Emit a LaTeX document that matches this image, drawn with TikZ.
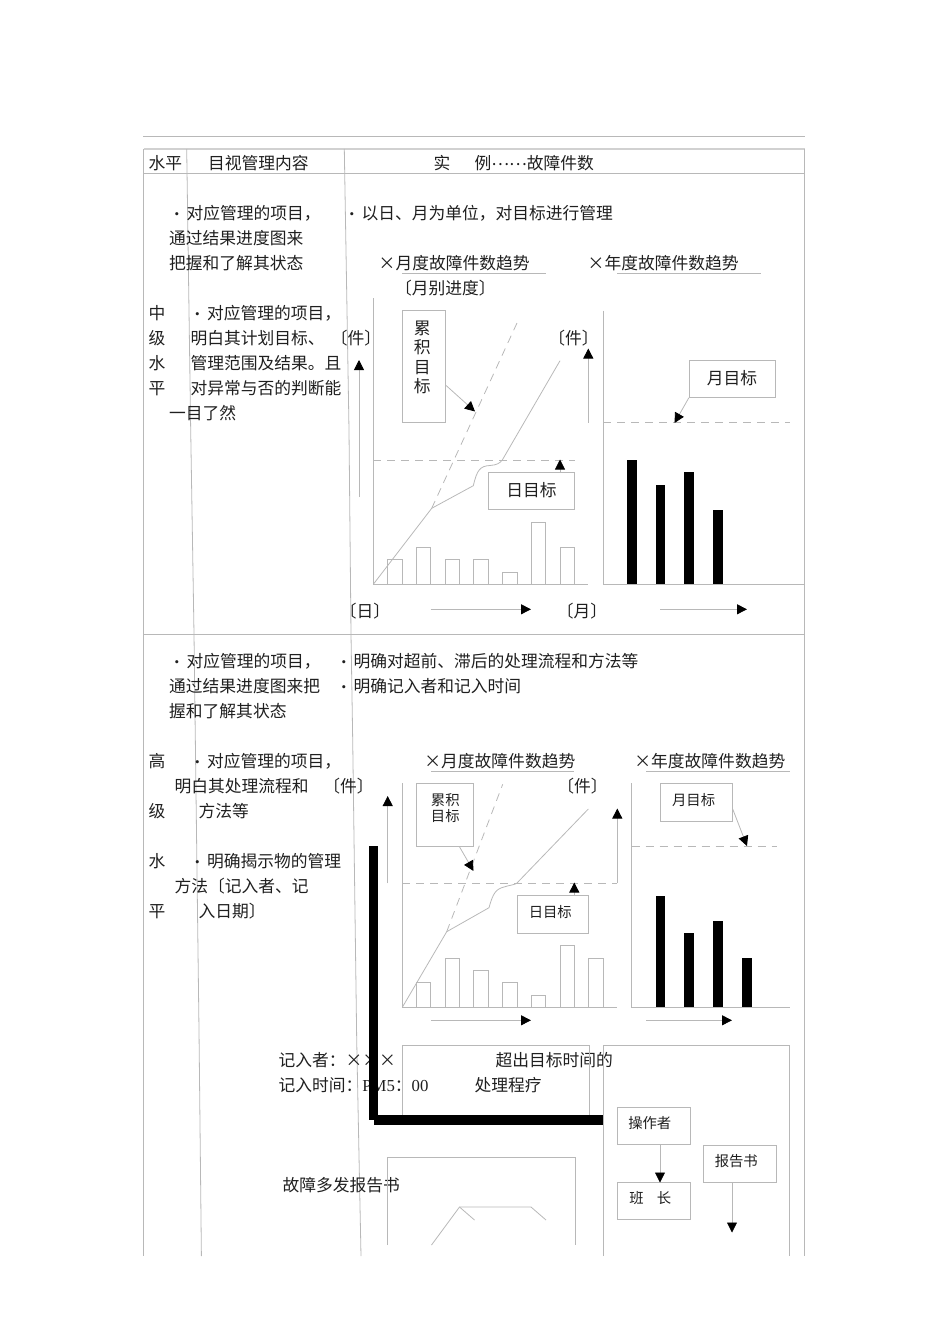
\documentclass[tikz,border=0pt]{standalone}
\usepackage{fontspec}
\setmainfont{Liberation Serif}
\newfontfamily\cjk{Noto Sans CJK SC}
\usetikzlibrary{positioning, shapes.geometric, arrows.meta}
\definecolor{rulegray}{gray}{0.72}
\newcommand{\dotb}{\makebox[19pt]{\raisebox{0.8pt}{\rmfamily\fontsize{13}{13}\selectfont •}}}
\tikzset{
  txt/.style={anchor=west, inner sep=0, xshift=-0.7pt, yshift=-0.7pt, text=black!88, text height=14.5pt, text depth=1.7pt, font=\cjk\fontsize{16.76}{18}\selectfont},
  mid/.style={txt, anchor=center},
  sml/.style={mid, text height=12.5pt, text depth=1.5pt, font=\cjk\fontsize{14.36}{16}\selectfont},
  box/.style={draw=rulegray, line width=0.8pt, inner sep=0},
  rule/.style={draw=rulegray, line width=0.8pt},
  dashline/.style={rule, dash pattern=on 8pt off 6pt},
  arr/.style={rule, -{Triangle[length=10pt,width=10pt,color=black]}}
}
\begin{document}
\begin{tikzpicture}[x=1pt, y=-1pt]
\useasboundingbox (0,0) rectangle (950,1344);
% table
\draw[rule] (143,136.5) -- (804.5,136.5);
\draw[rule, line width=1.3pt, draw=black!18] (143.5,149) -- (804.5,149);
\draw[rule] (143.5,149) -- (143.5,1256); \draw[rule] (804.5,149) -- (804.5,1256);
\draw[rule] (143.5,173.5) -- (804.5,173.5); \draw[rule] (143.5,634) -- (804.5,634);
\draw[rule] (186.7,149) -- (190.7,430) -- (194,634) -- (199,1030) -- (201.4,1256);
\draw[rule] (344.3,149) -- (349,430) -- (351,634) -- (352.7,740) -- (356.7,1040) -- (361,1256);
\node[txt] (hlevel) at (149,162.5) {水平};
\node[txt] (hcontent) at (208.5,162.5) {目视管理内容};
\node[txt] (hshi) at (434,162.5) {实};
\node[txt] (hli) at (475,162.5) {例\raisebox{4.5pt}{……}故障件数};
% first row, text
\node[txt] (ra1) at (187,212.5) {\llap{\dotb}对应管理的项目，};
\node[txt] (ra2) at (169.7,237.5) {通过结果进度图来};
\node[txt] (ra3) at (169.7,262.5) {把握和了解其状态};
\node[txt] (ma1) at (149,312) {中}; \node[txt] (ma2) at (149,337) {级};
\node[txt] (ma3) at (149,362) {水}; \node[txt] (ma4) at (149,387) {平};
\node[txt] (rb1) at (207.5,312) {\llap{\dotb}对应管理的项目，};
\node[txt] (rb2) at (191,337) {明白其计划目标、};
\node[txt] (rb3) at (191,362) {管理范围及结果。且};
\node[txt] (rb4) at (191,387) {对异常与否的判断能};
\node[txt] (rb5) at (169.7,412) {一目了然};
\node[txt] (rc1) at (362,212.5) {\llap{\dotb}以日、月为单位，对目标进行管理};
% first row, monthly chart
\node[txt] (tmonth) at (396,262.5) {\llap{×}月度故障件数趋势};
\node[mid] (tsub) at (446,287) {〔月别进度〕};
\node[mid] (unita) at (356.7,337) {〔件〕};
\node[mid] (unitb) at (574.3,337) {〔件〕};
\node[mid] (dayl) at (365.7,610.5) {〔日〕};
\draw[rule] (402,273.3) -- (545.7,273.3);
\draw[rule] (373.3,298) -- (373.3,584.3) -- (588.3,584.3);
\draw[rule] (387.3,584.3) rectangle (402.3,559.3);
\draw[rule] (416.3,584.3) rectangle (430.7,547.3);
\draw[rule] (445.3,584.3) rectangle (459.7,559.3);
\draw[rule] (473.7,584.3) rectangle (488.7,559.3);
\draw[rule] (502.7,584.3) rectangle (517.3,572.3);
\draw[rule] (531.3,584.3) rectangle (545.7,522.3);
\draw[rule] (560.3,584.3) rectangle (574.7,547.3);
\draw[rule] (373.3,584.3) -- (431.7,508.3) -- (473.3,485.7) .. controls (477,470) and (480,466) .. (490,465.5) .. controls (497,465) and (500,463) .. (502.3,460) -- (560,360.7);
\draw[dashline] (431.7,508.3) -- (517,323);
\draw[dashline] (373.3,460.3) -- (575,460.3);
\node[box, minimum width=43.4pt, minimum height=112.4pt] (goala) at (424,366.5) {};
\node[mid] (goala1) at (423,327) {累}; \node[mid] (goala2) at (423,346.5) {积};
\node[mid] (goala3) at (423,366) {目}; \node[mid] (goala4) at (423,385.5) {标};
\coordinate (goalat) at (475,411.5);
\draw[arr] ([yshift=-19pt]goala.east) -- (goalat);
\node[box, minimum width=86.4pt, minimum height=37pt] (daya) at (531.5,490.8) {};
\node[mid] (daya1) at (532.3,489.5) {日目标};
\coordinate (dayat) at (560,459.5);
\draw[arr] ([xshift=28.5pt]daya.north) -- (dayat);
\coordinate (upa1) at (359,497); \coordinate (upa2) at (359,360); \draw[arr] (upa1) -- (upa2);
\coordinate (upb1) at (588.3,422.7); \coordinate (upb2) at (588.3,348.5); \draw[arr] (upb1) -- (upb2);
\coordinate (ra1s) at (430.7,609.3); \coordinate (ra1e) at (531,609.3); \draw[arr] (ra1s) -- (ra1e);
% first row, yearly chart
\node[txt] (tyear) at (605,262.5) {\llap{×}年度故障件数趋势};
\node[mid] (monl) at (582.7,610.5) {〔月〕};
\draw[rule] (617.3,273.3) -- (760.7,273.3);
\draw[rule] (603.3,310.7) -- (603.3,584.3) -- (804.3,584.3);
\draw[dashline] (603.3,422.3) -- (790,422.3);
\fill[color=black] (627,584.3) rectangle (636.7,460);
\fill[color=black] (655.7,584.3) rectangle (665.3,485);
\fill[color=black] (684.3,584.3) rectangle (694,472.3);
\fill[color=black] (713.3,584.3) rectangle (722.7,510);
\node[box, minimum width=86.4pt, minimum height=37pt] (mona) at (732.5,378.8) {};
\node[mid] (mona1) at (732.7,377.5) {月目标};
\coordinate (monat) at (674.5,423);
\draw[arr] (mona.south west) -- (monat);
\coordinate (ra2s) at (660.3,609.3); \coordinate (ra2e) at (747,609.3); \draw[arr] (ra2s) -- (ra2e);
% second row, text
\node[txt] (rd1) at (187,660.5) {\llap{\dotb}对应管理的项目，};
\node[txt] (rd2) at (169.7,685.5) {通过结果进度图来把};
\node[txt] (rd3) at (169.7,710.5) {握和了解其状态};
\node[txt] (re1) at (354,660.5) {\llap{\dotb}明确对超前、滞后的处理流程和方法等};
\node[txt] (re2) at (354,685.5) {\llap{\dotb}明确记入者和记入时间};
\node[txt] (mb1) at (149,760.5) {高}; \node[txt] (mb2) at (149,810.5) {级};
\node[txt] (mb3) at (149,860.5) {水}; \node[txt] (mb4) at (149,910.5) {平};
\node[txt] (rf1) at (207.5,760.5) {\llap{\dotb}对应管理的项目，};
\node[txt] (rf2) at (175,785.5) {明白其处理流程和};
\node[txt] (rf3) at (199,810.5) {方法等};
\node[txt] (rf4) at (207.5,860.5) {\llap{\dotb}明确揭示物的管理};
\node[txt] (rf5) at (175,885.5) {方法〔记入者、记};
\node[txt] (rf6) at (199,910.5) {入日期〕};
% second row, monthly chart
\node[txt] (tmonthb) at (441.7,760.5) {\llap{×}月度故障件数趋势};
\node[mid] (unitc) at (349.3,785) {〔件〕};
\node[mid] (unitd) at (583.3,785) {〔件〕};
\draw[rule] (431,771.7) -- (574.3,771.7);
\draw[rule] (402.3,783.3) -- (402.3,1007.3) -- (617.3,1007.3);
\draw[rule] (416.3,1007.3) rectangle (430.7,982.3);
\draw[rule] (445.3,1007.3) rectangle (459.7,958);
\draw[rule] (473.7,1007.3) rectangle (488.7,970.3);
\draw[rule] (502.7,1007.3) rectangle (517.3,982.3);
\draw[rule] (531.3,1007.3) rectangle (545.7,995.3);
\draw[rule] (560.3,1007.3) rectangle (574.7,945.3);
\draw[rule] (588.3,1007.3) rectangle (603.7,958);
\draw[rule] (402.3,1007.3) -- (446.7,931.7) -- (489,907.7) .. controls (493,893) and (496,889) .. (504,887) .. controls (510,885) and (514,885) .. (516.7,883.3) -- (588.3,809);
\draw[dashline] (446.7,931.7) -- (502.7,784.3);
\draw[dashline] (402.3,883.3) -- (616.7,883.3);
\node[box, minimum width=57.4pt, minimum height=62.7pt] (goalb) at (445,814.7) {};
\node[sml] (goalb1) at (446,799.5) {累积}; \node[sml] (goalb2) at (446,815.5) {目标};
\coordinate (goalbt) at (473.5,871);
\draw[arr] ([xshift=14.3pt]goalb.south) -- (goalbt);
\node[box, minimum width=71.4pt, minimum height=37.6pt] (dayb) at (553,914.5) {};
\node[sml] (dayb1) at (551,911) {日目标};
\coordinate (daybt) at (574.3,882.5);
\draw[arr] ([xshift=21.3pt]dayb.north) -- (daybt);
\coordinate (upc1) at (387.7,883.3); \coordinate (upc2) at (387.7,796); \draw[arr] (upc1) -- (upc2);
\coordinate (upd1) at (617.3,883.3); \coordinate (upd2) at (617.3,808.5); \draw[arr] (upd1) -- (upd2);
\coordinate (rb1s) at (431,1020.3); \coordinate (rb1e) at (531,1020.3); \draw[arr] (rb1s) -- (rb1e);
% second row, yearly chart
\node[txt] (tyearb) at (651.7,760.5) {\llap{×}年度故障件数趋势};
\draw[rule] (646,771.7) -- (790,771.7);
\draw[rule] (631.7,783.3) -- (631.7,1007.3) -- (790,1007.3);
\draw[dashline] (631.7,846) -- (776.7,846);
\fill[color=black] (655.7,1007.3) rectangle (665.3,895.7);
\fill[color=black] (684.3,1007.3) rectangle (694,933.3);
\fill[color=black] (713.3,1007.3) rectangle (722.7,920.7);
\fill[color=black] (742,1007.3) rectangle (751.7,958);
\node[box, minimum width=71.6pt, minimum height=38pt] (monb) at (696.5,802.3) {};
\node[sml] (monb1) at (694.3,799.5) {月目标};
\coordinate (monbt) at (747,846);
\draw[arr] ([yshift=-6.7pt]monb.east) -- (monbt);
\coordinate (rb2s) at (646,1020.3); \coordinate (rb2e) at (732,1020.3); \draw[arr] (rb2s) -- (rb2e);
% record, flow and report
\node[txt] (recby) at (279,1059.5) {记入者：×××};
\node[txt] (recat) at (279,1084) {记入时间：{\rmfamily PM5}：{\rmfamily 00}};
\node[txt] (over) at (496,1059.5) {超出目标时间的};
\node[txt] (proc) at (475,1084) {处理程疗};
\draw[rule] (402,1120) -- (402,1045) -- (589,1045) -- (589,1120);
\draw[rule] (603,1256) -- (603,1045) -- (789.5,1045) -- (789.5,1256);
\fill[color=black] (368.5,846) rectangle (378,1120);
\fill[color=black] (374,1115) rectangle (603,1124.5);
\node[box, minimum width=73pt, minimum height=37pt] (oper) at (653.5,1125.7) {};
\node[sml] (oper1) at (650.5,1122) {操作者};
\node[box, minimum width=73pt, minimum height=37pt] (lead) at (653.5,1200.8) {};
\node[sml] (lead1) at (651,1197) {班\hspace{13pt}长};
\node[box, minimum width=73pt, minimum height=37.5pt] (rep) at (739.5,1163.7) {};
\node[sml] (rep1) at (737,1160) {报告书};
\coordinate (opert) at (660,1182.5);
\draw[arr] ([xshift=6.5pt]oper.south) -- (opert);
\coordinate (rept) at (732,1232.5);
\draw[arr] ([xshift=-7.5pt]rep.south) -- (rept);
\node[txt] (repname) at (283,1184) {故障多发报告书};
\draw[rule] (387.5,1245) -- (387.5,1157) -- (575,1157) -- (575,1245);
\draw[rule] (431.5,1245) -- (459.5,1207) -- (531,1207) -- (546,1220);
\draw[rule] (459.5,1207) -- (474.5,1220);
\end{tikzpicture}
\end{document}
